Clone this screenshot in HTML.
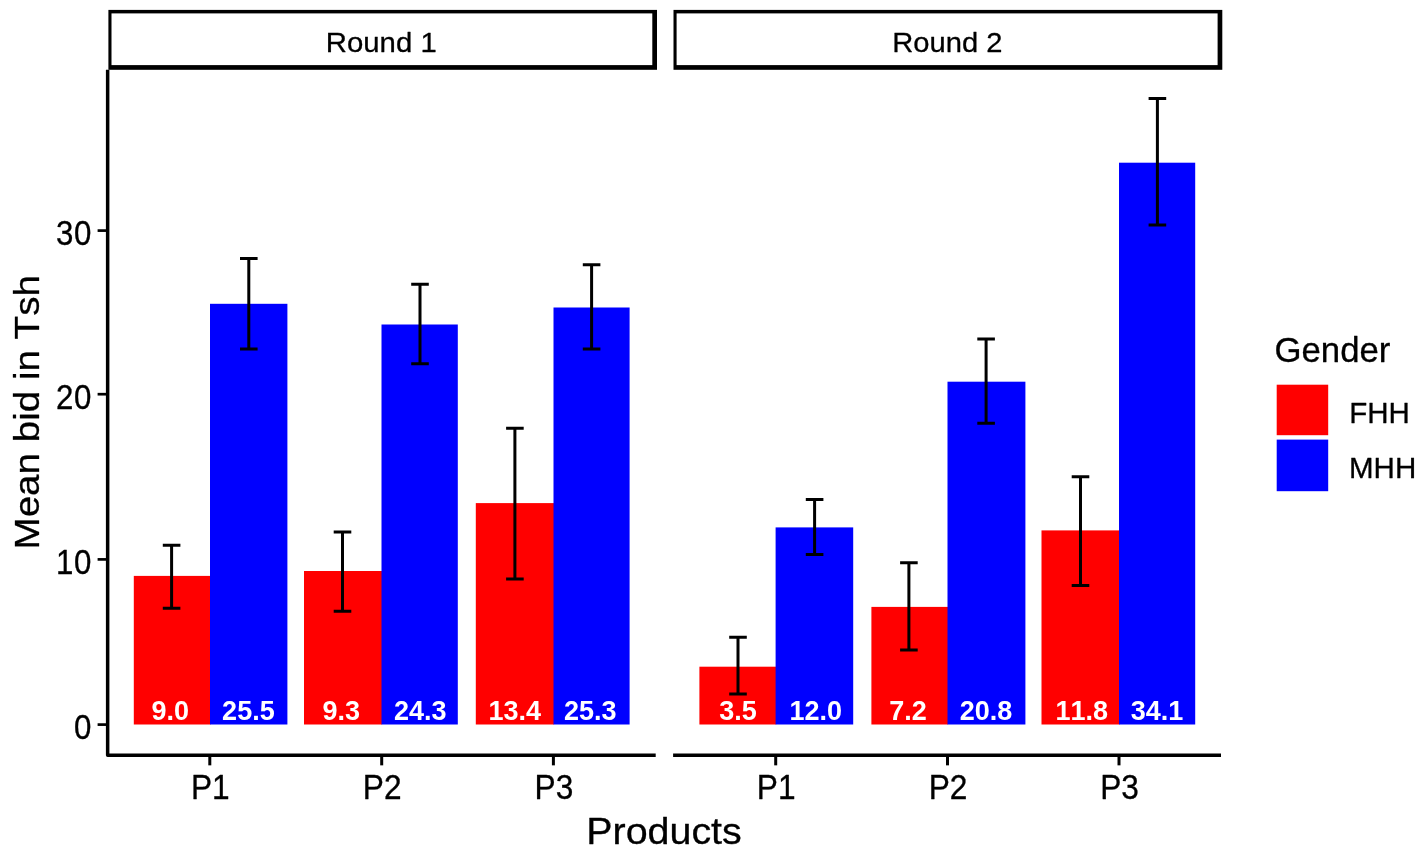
<!DOCTYPE html>
<html lang="en"><head><meta charset="utf-8"><title>Mean bid in Tsh by product, round and gender</title>
<style>
html,body{margin:0;padding:0;background:#fff;}
body{width:1415px;height:855px;overflow:hidden;}
svg{display:block;}
text{font-family:"Liberation Sans",Arial,Helvetica,sans-serif;font-kerning:none;fill:#000;stroke:#000;stroke-width:0.3px;stroke-linejoin:round;}
.tick{font-size:33px;}
.ls{letter-spacing:0.6px;}
.strip{font-size:28.3px;}
.ltitle{font-size:34px;}
.ltext{font-size:29.5px;}
.atitle{font-size:36px;}
.bl{font-size:27px;font-weight:bold;fill:#fff;stroke:none;}
</style></head><body>
<svg width="1415" height="855" viewBox="0 0 1415 855">
<rect x="0" y="0" width="1415" height="855" fill="#ffffff"/>
<rect x="108.4" y="9.9" width="548.6" height="59.9" fill="#000"/>
<rect x="111.5" y="13.4" width="540.8" height="51.7" fill="#fff"/>
<text class="strip" transform="translate(381.25 52.10) scale(1.037 1.0)" text-anchor="middle">Round 1</text>
<rect x="673.5" y="9.9" width="548.8" height="59.9" fill="#000"/>
<rect x="676.6" y="13.4" width="541.0" height="51.7" fill="#fff"/>
<text class="strip" transform="translate(947.35 52.10) scale(1.03 1.0)" text-anchor="middle">Round 2</text>
<rect x="133.8" y="575.9" width="76.8" height="148.6" fill="#ff0000"/>
<rect x="210.0" y="303.8" width="77.4" height="420.7" fill="#0000ff"/>
<rect x="304.0" y="571.0" width="78.1" height="153.5" fill="#ff0000"/>
<rect x="381.5" y="324.5" width="76.3" height="400.0" fill="#0000ff"/>
<rect x="475.8" y="503.1" width="78.3" height="221.4" fill="#ff0000"/>
<rect x="553.5" y="307.5" width="76.1" height="417.0" fill="#0000ff"/>
<path d="M162.8 545.3H180.4M171.6 545.3V608.3M162.8 608.3H180.4" stroke="#000" stroke-width="3.0" fill="none"/>
<path d="M240.0 258.5H257.6M248.8 258.5V349.0M240.0 349.0H257.6" stroke="#000" stroke-width="3.0" fill="none"/>
<path d="M333.7 532.0H351.3M342.5 532.0V611.2M333.7 611.2H351.3" stroke="#000" stroke-width="3.0" fill="none"/>
<path d="M411.2 284.2H428.8M420.0 284.2V363.8M411.2 363.8H428.8" stroke="#000" stroke-width="3.0" fill="none"/>
<path d="M506.1 428.2H523.7M514.9 428.2V578.9M506.1 578.9H523.7" stroke="#000" stroke-width="3.0" fill="none"/>
<path d="M582.8 264.8H600.4M591.6 264.8V349.0M582.8 349.0H600.4" stroke="#000" stroke-width="3.0" fill="none"/>
<text class="bl" transform="translate(170.20 720.20)" text-anchor="middle">9.0</text>
<text class="bl" transform="translate(248.40 720.20)" text-anchor="middle">25.5</text>
<text class="bl" transform="translate(341.20 720.20)" text-anchor="middle">9.3</text>
<text class="bl" transform="translate(420.30 720.20)" text-anchor="middle">24.3</text>
<text class="bl" transform="translate(514.80 720.20)" text-anchor="middle">13.4</text>
<text class="bl" transform="translate(590.30 720.20)" text-anchor="middle">25.3</text>
<path d="M107.65 69.8V755.25H655.7" stroke="#000" stroke-width="3.5" stroke-linejoin="round" fill="none"/>
<path d="M209.8 756.75V765.35" stroke="#000" stroke-width="3.0" fill="none"/>
<text class="tick" transform="translate(210.30 799.40) scale(0.96 1.04)" text-anchor="middle">P1</text>
<path d="M381.7 756.75V765.35" stroke="#000" stroke-width="3.0" fill="none"/>
<text class="tick" transform="translate(382.20 799.40) scale(0.96 1.04)" text-anchor="middle">P2</text>
<path d="M553.4 756.75V765.35" stroke="#000" stroke-width="3.0" fill="none"/>
<text class="tick" transform="translate(553.90 799.40) scale(0.96 1.04)" text-anchor="middle">P3</text>
<rect x="699.4" y="666.7" width="76.8" height="57.8" fill="#ff0000"/>
<rect x="775.6" y="527.4" width="77.6" height="197.1" fill="#0000ff"/>
<rect x="871.4" y="606.9" width="76.7" height="117.6" fill="#ff0000"/>
<rect x="947.5" y="381.7" width="77.9" height="342.8" fill="#0000ff"/>
<rect x="1041.5" y="530.4" width="78.1" height="194.1" fill="#ff0000"/>
<rect x="1119.0" y="162.7" width="76.2" height="561.8" fill="#0000ff"/>
<path d="M729.2 637.2H746.8M738.0 637.2V693.9M729.2 693.9H746.8" stroke="#000" stroke-width="3.0" fill="none"/>
<path d="M805.8 499.5H823.4M814.6 499.5V554.5M805.8 554.5H823.4" stroke="#000" stroke-width="3.0" fill="none"/>
<path d="M900.1 562.8H917.7M908.9 562.8V650.0M900.1 650.0H917.7" stroke="#000" stroke-width="3.0" fill="none"/>
<path d="M977.3 338.9H994.9M986.1 338.9V423.2M977.3 423.2H994.9" stroke="#000" stroke-width="3.0" fill="none"/>
<path d="M1071.7 476.8H1089.3M1080.5 476.8V585.6M1071.7 585.6H1089.3" stroke="#000" stroke-width="3.0" fill="none"/>
<path d="M1148.6 98.6H1166.2M1157.4 98.6V224.9M1148.6 224.9H1166.2" stroke="#000" stroke-width="3.0" fill="none"/>
<text class="bl" transform="translate(737.90 720.20)" text-anchor="middle">3.5</text>
<text class="bl" transform="translate(815.70 720.20)" text-anchor="middle">12.0</text>
<text class="bl" transform="translate(908.10 720.20)" text-anchor="middle">7.2</text>
<text class="bl" transform="translate(986.00 720.20)" text-anchor="middle">20.8</text>
<text class="bl" transform="translate(1081.70 720.20)" text-anchor="middle">11.8</text>
<text class="bl" transform="translate(1157.10 720.20)" text-anchor="middle">34.1</text>
<path d="M673.1 755.25H1221.0" stroke="#000" stroke-width="3.5" fill="none"/>
<path d="M775.7 756.75V765.35" stroke="#000" stroke-width="3.0" fill="none"/>
<text class="tick" transform="translate(776.20 799.40) scale(0.96 1.04)" text-anchor="middle">P1</text>
<path d="M947.5 756.75V765.35" stroke="#000" stroke-width="3.0" fill="none"/>
<text class="tick" transform="translate(948.00 799.40) scale(0.96 1.04)" text-anchor="middle">P2</text>
<path d="M1119.0 756.75V765.35" stroke="#000" stroke-width="3.0" fill="none"/>
<text class="tick" transform="translate(1119.50 799.40) scale(0.96 1.04)" text-anchor="middle">P3</text>
<path d="M97.6 724.6H106.5" stroke="#000" stroke-width="2.7" fill="none"/>
<text class="tick ls" transform="translate(92.00 739.05) scale(0.947 1.07)" text-anchor="end">0</text>
<path d="M97.6 559.4H106.5" stroke="#000" stroke-width="2.7" fill="none"/>
<text class="tick ls" transform="translate(92.00 573.80) scale(0.947 1.07)" text-anchor="end">10</text>
<path d="M97.6 394.2H106.5" stroke="#000" stroke-width="2.7" fill="none"/>
<text class="tick ls" transform="translate(92.00 408.60) scale(0.947 1.07)" text-anchor="end">20</text>
<path d="M97.6 230.6H106.5" stroke="#000" stroke-width="2.7" fill="none"/>
<text class="tick ls" transform="translate(92.00 245.00) scale(0.947 1.07)" text-anchor="end">30</text>
<text class="atitle" transform="translate(664.00 844.20) scale(1.095 1)" text-anchor="middle">Products</text>
<text class="atitle" transform="translate(38.90 412.30) rotate(-90) scale(1.072 1)" text-anchor="middle">Mean bid in Tsh</text>
<text class="ltitle" transform="translate(1274.50 362.30) scale(1.022 1.05)" text-anchor="start">Gender</text>
<rect x="1276.7" y="384.7" width="51.5" height="50.5" fill="#ff0000"/>
<rect x="1276.7" y="439.6" width="51.5" height="51.6" fill="#0000ff"/>
<text class="ltext" transform="translate(1349.20 423.00)" text-anchor="start">FHH</text>
<text class="ltext" transform="translate(1349.00 478.00)" text-anchor="start">MHH</text>
</svg></body></html>
